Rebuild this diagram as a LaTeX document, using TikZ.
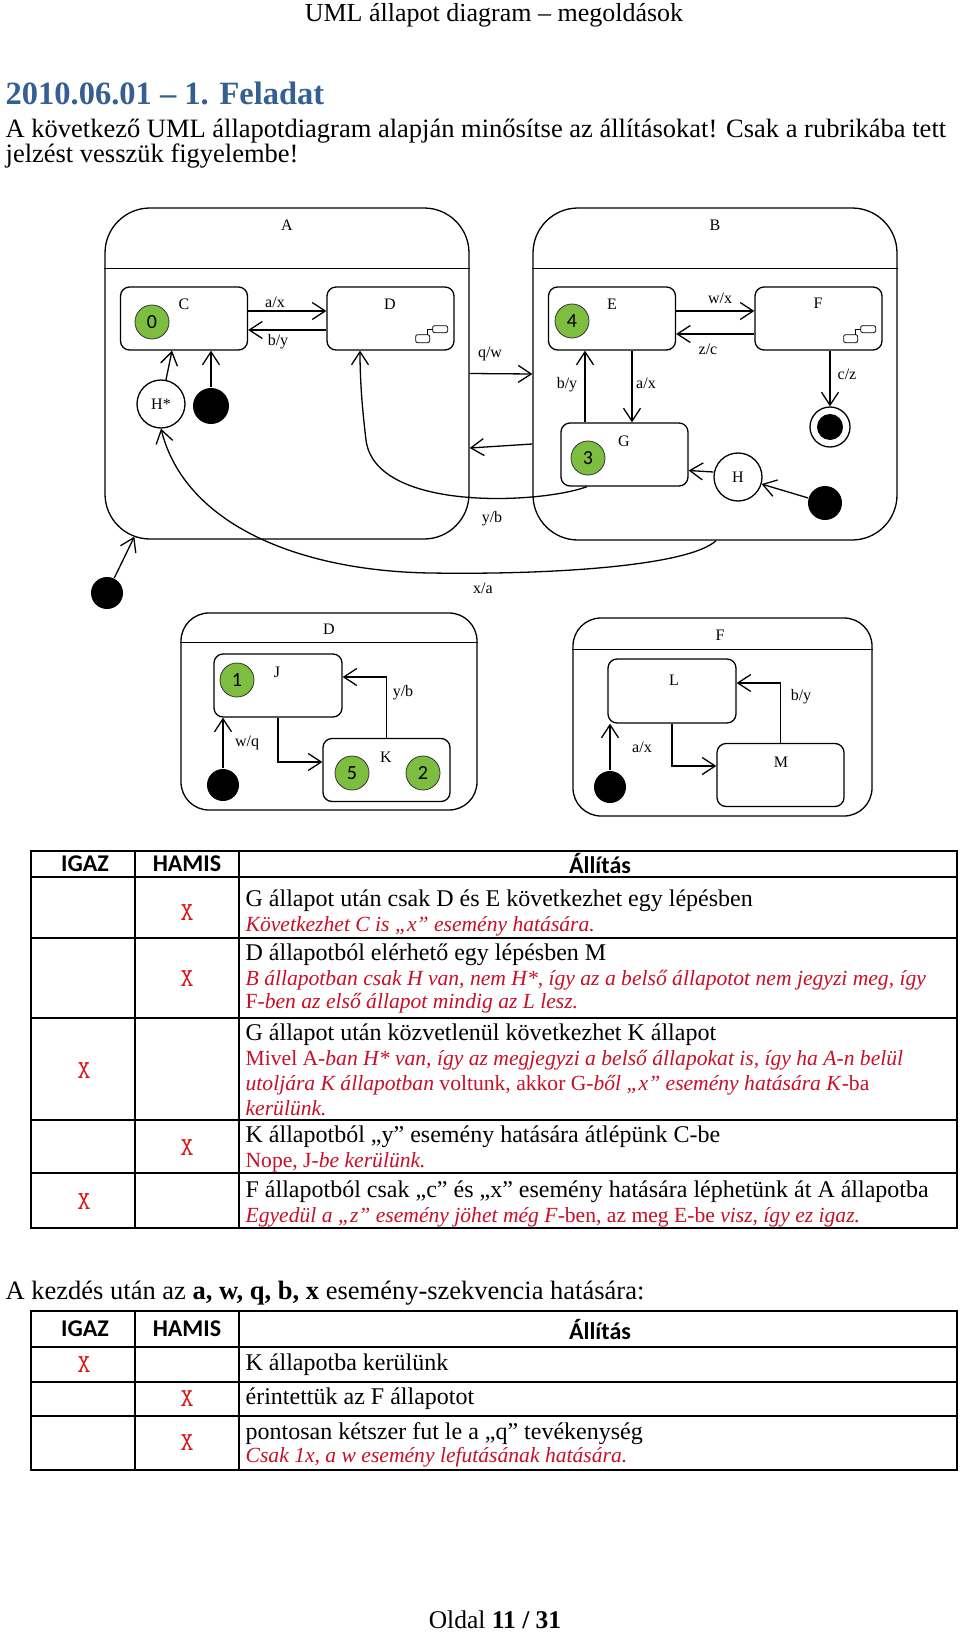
\documentclass[tikz,border=0pt]{standalone}
\usepackage{fontspec}
\setmainfont{Liberation Serif}
\newfontfamily\carlito{Carlito}
\usepackage{tikz}
\usetikzlibrary{arrows.meta}
\definecolor{headblue}{RGB}{54,95,145}
\definecolor{numgreen}{RGB}{125,190,65}
\definecolor{markred}{RGB}{220,20,20}
\definecolor{notered}{RGB}{200,16,40}
\tikzset{
    trans/.style={draw, -{Straight Barb[length=13pt,width=17pt]}},
    state/.style={draw, rounded corners=9pt, minimum width=127pt, minimum height=63pt, inner sep=0},
    compst/.style={draw, rounded corners=45pt, inner sep=0},
    sublabel/.style={font=\fontsize{16}{16}\selectfont, inner sep=1pt},
    numst/.style={circle, draw=black!80, line width=0.8pt, fill=numgreen, minimum size=34pt, inner sep=0, font=\carlito\fontsize{20}{20}\selectfont},
    initst/.style={circle, fill=black, minimum size=34pt, inner sep=0},
    histst/.style={circle, draw, minimum size=48pt, inner sep=0, font=\fontsize{16}{16}\selectfont},
    finalst/.style={circle, draw, minimum size=40pt, inner sep=0, path picture={\fill (path picture bounding box.center) circle (13pt);}},
    txt/.style={anchor=west, inner sep=0, text height=16pt, text depth=5pt, font=\fontsize{24}{25}\selectfont},
    bigtxt/.style={txt, font=\fontsize{26.5}{25}\selectfont},
    note/.style={txt, text=notered, font=\fontsize{21.6}{25}\selectfont\itshape},
    xmark/.style={text=markred, font=\ttfamily\fontsize{26}{26}\selectfont, inner sep=0},
    colhead/.style={font=\carlito\bfseries\fontsize{24}{24}\selectfont, inner sep=0},
    tabline/.style={draw, line width=1.6pt},
    tabframe/.style={draw, line width=2.2pt},
}
\newcommand{\subicon}[1]{%
  \begin{scope}[shift={(#1)}, line width=0.8pt]
    \draw[rounded corners=2pt] (-39,-16) rectangle (-25,-8);
    \draw[rounded corners=2pt] (-22,-25) rectangle (-7,-18);
    \draw (-27,-16) -- (-27,-21.5) -- (-22,-21.5);
  \end{scope}}

\begin{document}
\begin{tikzpicture}[x=1pt, y=-1pt, line width=1.3pt]
	\fill[white] (0,0) rectangle (960,1632);
	\useasboundingbox (0,0) rectangle (960,1632);
	% page head
	\node[inner sep=0, font=\fontsize{26}{26}\selectfont] (pghead) at (494,15) {UML állapot diagram – megoldások};
	\node[anchor=west, inner sep=0, text=headblue, font=\bfseries\fontsize{32.5}{32}\selectfont] (title) at (5,93) {2010.06.01 – 1. Feladat};
	\node[bigtxt] (intro1) at (5,132) {A következő UML állapotdiagram alapján minősítse az állításokat! Csak a rubrikába tett};
	\node[bigtxt] (intro2) at (5,157) {jelzést vesszük figyelembe!};
	% top level states
	\node[compst, minimum width=364pt, minimum height=331pt] (A) at (287,373.5) {};
	\node[compst, minimum width=364pt, minimum height=332pt] (B) at (715,374) {};
	\draw ([yshift=-61pt]A.north west) -- ([yshift=-61pt]A.north east);
	\draw ([yshift=-61pt]B.north west) -- ([yshift=-61pt]B.north east);
	\node[sublabel] (Alab) at (287,225) {A};
	\node[sublabel] (Blab) at (715,225) {B};
	\node[state] (C) at (184,318.5) {};
	\node[state] (D) at (390.5,318.5) {};
	\node[state] (E) at (612,318.5) {};
	\node[state] (F) at (818.5,318.5) {};
	\node[state] (G) at (624.5,454.5) {};
	\node[sublabel] (Clab) at (184,304) {C};
	\node[sublabel] (Dlab) at (390,304) {D};
	\node[sublabel] (Elab) at (612,304) {E};
	\node[sublabel] (Flab) at (818,303) {F};
	\node[sublabel] (Glab) at (624,441) {G};
	\subicon{D.south east}
	\subicon{F.south east}
	\node[numst] (n0) at (152,322) {0};
	\node[numst] (n4) at (572,321) {4};
	\node[numst] (n3) at (588,458) {3};
	\node[histst] (hstar) at (161,404) {H*};
	\node[initst, minimum size=36pt] (iniA) at (211,406) {};
	\node[histst] (hist) at (738,477) {H};
	\node[initst] (iniB) at (825,503) {};
	\node[finalst] (fin) at (830,427) {};
	\node[initst, minimum size=32pt] (iniTop) at (107,593) {};
	% transitions
	\draw[trans] ([yshift=7.5pt]C.east) -- ([yshift=7.5pt]D.west);
	\draw[trans] ([yshift=-11.5pt]D.west) -- ([yshift=-11.5pt]C.east);
	\draw[trans] ([yshift=7.5pt]E.east) -- ([yshift=7.5pt]F.west);
	\draw[trans] ([yshift=-15.5pt]F.west) -- ([yshift=-15.5pt]E.east);
	\draw[trans] ([xshift=20pt]E.south) -- ([xshift=7.5pt]G.north);
	\draw[trans] ([xshift=-39.5pt]G.north) -- ([xshift=-27pt]E.south);
	\draw[trans] (F.south -| fin) -- (fin.north);
	\draw[trans] (hstar) -- ([xshift=-12pt]C.south);
	\draw[trans] (iniA) -- (iniA |- C.south);
	\draw[trans] (A.east) -- (B.west);
	\draw[trans] ([yshift=-70pt]B.west) -- ([yshift=-74.5pt]A.east);
	\draw[trans] ([yshift=5pt]hist.west) -- ([yshift=-16pt]G.east);
	\draw[trans] (iniB) -- (hist);
	\draw[trans] ([xshift=-37.5pt]G.south) .. controls (540,504) and (375,512) .. (366,440) .. controls (363,415) and (360,385) .. ([xshift=-30.5pt]D.south);
	\draw[trans] ([xshift=1pt]B.south) .. controls (690,565) and (560,575) .. (430,573) .. controls (300,571) and (185,525) .. (hstar.south);
	\draw[trans] (iniTop) -- ([xshift=30pt,yshift=3pt]A.south west);
	\node[sublabel] (l1) at (275,302) {a/x};
	\node[sublabel] (l2) at (278,342) {b/y};
	\node[sublabel] (l3) at (720,298) {w/x};
	\node[sublabel] (l4) at (708,349) {z/c};
	\node[sublabel] (l5) at (646,383) {a/x};
	\node[sublabel] (l6) at (567,385) {b/y};
	\node[sublabel] (l7) at (847,374) {c/z};
	\node[sublabel] (l8) at (490,354) {q/w};
	\node[sublabel] (l9) at (492,519) {y/b};
	\node[sublabel] (l10) at (483,588) {x/a};
	% D and F inside
	\begin{scope}[compst/.append style={rounded corners=28pt}]
	\node[compst, minimum width=296pt, minimum height=197pt] (Dsub) at (329,711.5) {};
	\node[compst, minimum width=299pt, minimum height=198pt] (Fsub) at (722.5,717) {};
	\end{scope}
	\draw ([yshift=-30pt]Dsub.north west) -- ([yshift=-30pt]Dsub.north east);
	\draw ([yshift=-32pt]Fsub.north west) -- ([yshift=-32pt]Fsub.north east);
	\node[sublabel] (Dsublab) at (329,629) {D};
	\node[sublabel] (Fsublab) at (720,635) {F};
	\node[state, minimum width=128pt] (J) at (278,685.5) {};
	\node[state] (K) at (386.5,770) {};
	\node[state, minimum width=128pt, minimum height=64pt] (L) at (672,691) {};
	\node[state] (M) at (780.5,775) {};
	\node[sublabel] (Jlab) at (277,672) {J};
	\node[sublabel] (Klab) at (386,757) {K};
	\node[sublabel] (Llab) at (674,680) {L};
	\node[sublabel] (Mlab) at (781,762) {M};
	\node[numst] (n1) at (237,680) {1};
	\node[numst] (n5) at (352,773) {5};
	\node[numst] (n2) at (423,773) {2};
	\node[initst, minimum size=32pt] (iniD) at (223,785) {};
	\node[initst, minimum size=32pt] (iniF) at (610,787) {};
	\draw[trans] (J.south) |- ([yshift=8pt]K.west);
	\draw[trans] (K.north) |- ([yshift=8.5pt]J.east);
	\draw[trans] (iniD) -- (iniD |- J.south);
	\draw[trans] (L.south) |- ([yshift=9pt]M.west);
	\draw[trans] (M.north) |- ([yshift=8pt]L.east);
	\draw[trans] (iniF) -- (iniF |- L.south);
	\node[sublabel] (l11) at (403,693) {y/b};
	\node[sublabel] (l12) at (247,743) {w/q};
	\node[sublabel] (l13) at (801,697) {b/y};
	\node[sublabel] (l14) at (642,747) {a/x};
	% first table
	\foreach \yy in {877,938,1018,1120,1173} \draw[tabline] (31,\yy) -- (957,\yy);
	\foreach \xx in {135,239} \draw[tabline] (\xx,851) -- (\xx,1228);
	\draw[tabframe] (31,851) rectangle (957,1228);
	\node[colhead] (igaz1) at (85,864) {IGAZ};
	\node[colhead] (hamis1) at (187,864) {HAMIS};
	\node[colhead] (allit1) at (600,864) {Állítás};
	\node[txt] (r1a) at (245,901) {G állapot után csak D és E következhet egy lépésben};
	\node[note] (r1b) at (245,926) {Következhet C is „x” esemény hatására.};
	\node[txt] (r2a) at (245,955) {D állapotból elérhető egy lépésben M};
	\node[note] (r2b) at (245,980) {B állapotban csak H van, nem H*, így az a belső állapotot nem jegyzi meg, így};
	\node[note] (r2c) at (245,1003) {\textup{F}-ben az első állapot mindig az L lesz.};
	\node[txt] (r3a) at (245,1035) {G állapot után közvetlenül következhet K állapot};
	\node[note] (r3b) at (245,1060) {\textup{Mivel A}-ban H* van, így az megjegyzi a belső állapokat is, így ha A-n belül};
	\node[note] (r3c) at (245,1085) {utoljára K állapotban \textup{voltunk, akkor G}-ből „x” esemény hatására K\textup{-ba}};
	\node[note] (r3d) at (245,1110) {kerülünk.};
	\node[txt] (r4a) at (245,1137) {K állapotból „y” esemény hatására átlépünk C-be};
	\node[note] (r4b) at (245,1162) {\textup{Nope, J}-be kerülünk.};
	\node[txt] (r5a) at (245,1192) {F állapotból csak „c” és „x” esemény hatására léphetünk át A állapotba};
	\node[note] (r5b) at (245,1217) {Egyedül a „z” esemény jöhet még F\textup{-ben, az meg E-be} visz, így ez igaz.};
	\foreach \xx/\yy [count=\i] in {187/913, 187/979, 84/1071, 187/1148, 84/1202}
		\node[xmark] (mark\i) at (\xx,\yy) {X};
	% second table
	\node[bigtxt] (seq) at (5,1294) {A kezdés után az \textbf{a, w, q, b, x} esemény-szekvencia hatására:};
	\foreach \yy in {1347,1382,1416} \draw[tabline] (31,\yy) -- (957,\yy);
	\foreach \xx in {135,239} \draw[tabline] (\xx,1311) -- (\xx,1470);
	\draw[tabframe] (31,1311) rectangle (957,1470);
	\node[colhead] (igaz2) at (85,1329) {IGAZ};
	\node[colhead] (hamis2) at (187,1329) {HAMIS};
	\node[colhead] (allit2) at (600,1329) {Állítás};
	\node[txt] (s1) at (245,1365) {K állapotba kerülünk};
	\node[txt] (s2) at (245,1399) {érintettük az F állapotot};
	\node[txt] (s3a) at (245,1434) {pontosan kétszer fut le a „q” tevékenység};
	\node[note] (s3b) at (245,1457) {Csak 1x, a w esemény lefutásának hatására.};
	\foreach \xx/\yy [count=\i] in {84/1365, 187/1399, 187/1443}
		\node[xmark] (smark\i) at (\xx,\yy) {X};
	% page foot
	\node[inner sep=0, font=\fontsize{25.5}{25}\selectfont] (pgfoot) at (495,1620) {Oldal \textbf{11 / 31}};
\end{tikzpicture}
\end{document}
